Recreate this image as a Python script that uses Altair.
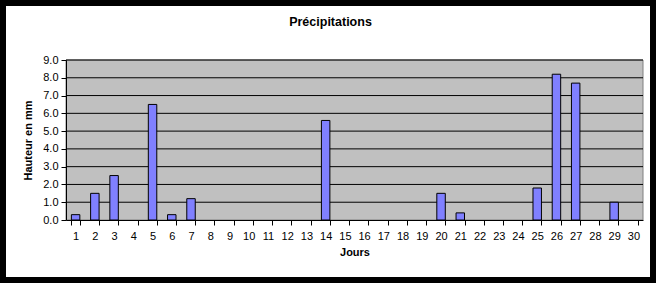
import altair as alt
import pandas as pd

days = [str(d) for d in range(1, 31)]
rain = [0.3, 1.5, 2.5, 0, 6.5, 0.3, 1.2, 0, 0, 0,
        0, 0, 0, 5.6, 0, 0, 0, 0, 0, 1.5,
        0.4, 0, 0, 0, 1.8, 8.2, 7.7, 0, 1.0, 0]
y_ticks = [0, 1, 2, 3, 4, 5, 6, 7, 8, 9]

df = pd.DataFrame({"jour": days, "mm": rain})
grid_df = pd.DataFrame({"v": y_ticks[1:]})

W, H = 577, 160
FONT = "Liberation Sans"

xscale = alt.Scale(domain=days, paddingInner=0.56, paddingOuter=0.28)
yscale = alt.Scale(domain=[0, 9], nice=False)

yaxis = alt.Axis(title="Hauteur en mm", values=y_ticks, format=".1f",
                 grid=False, domainColor="black", tickColor="black",
                 labelOverlap=False, tickSize=5, labelPadding=3,
                 titlePadding=9, zindex=1)

frame = alt.Chart(pd.DataFrame({"a": [0]})).mark_rect(fill="white").encode(
    x=alt.value(-60), x2=alt.value(584), y=alt.value(-54), y2=alt.value(217)
)
plotbg = alt.Chart(pd.DataFrame({"a": [0]})).mark_rect(
    fill="#C0C0C0", stroke="#808080", strokeWidth=1
).encode(x=alt.value(0), x2=alt.value(W), y=alt.value(0), y2=alt.value(H))

grid = alt.Chart(grid_df).mark_rule(color="black", strokeWidth=1).encode(
    y=alt.Y("v:Q", scale=yscale, axis=yaxis)
)

bars = alt.Chart(df).transform_filter("datum.mm > 0").mark_bar(
    fill="#8080FF", stroke="black", strokeWidth=1
).encode(
    x=alt.X("jour:N", scale=xscale, sort=days,
            axis=alt.Axis(title="Jours", labelAngle=0, tickBand="extent",
                          domainColor="black", tickColor="black", tickSize=5,
                          labelPadding=5, titlePadding=5, zindex=1)),
    y=alt.Y("mm:Q", scale=yscale, axis=yaxis),
)

chart = alt.layer(frame, plotbg, grid, bars).properties(
    width=W, height=H,
    background="black",
    padding={"left": 66, "top": 60, "right": 13, "bottom": 63},
    autosize=alt.AutoSizeParams(type="none"),
    title=alt.TitleParams("Précipitations", font=FONT, fontSize=12.5,
                          fontWeight="bold", color="black", dx=-24,
                          offset=0, baseline="alphabetic", dy=32),
).configure_view(stroke=None).configure_axis(
    labelFont=FONT, labelFontSize=11, labelColor="black",
    titleFont=FONT, titleFontSize=11, titleFontWeight="bold", titleColor="black",
    domainWidth=1, tickWidth=1,
)

chart.save("out.html", embed_options={"renderer": "svg", "actions": False})
